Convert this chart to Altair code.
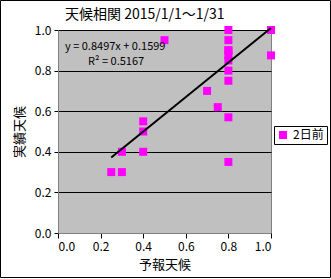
import altair as alt
import pandas as pd

forecast = [0.25, 0.3, 0.3, 0.4, 0.4, 0.4, 0.5, 0.7, 0.75,
            0.8, 0.8, 0.8, 0.8, 0.8, 0.8, 0.8, 0.8, 0.8, 0.8, 1.0, 1.0]
actual = [0.3, 0.3, 0.4, 0.4, 0.5, 0.55, 0.95, 0.7, 0.62,
          1.0, 0.95, 0.9, 0.875, 0.85, 0.8, 0.75, 0.57, 0.35, 0.9, 1.0, 0.875]
series = "2日前"
slope = 0.8497
intercept = 0.1599
eq_text = "y = 0.8497x + 0.1599"
r2_text = "R² = 0.5167"
title_text = "天候相関 2015/1/1～1/31"
ticks = [0.0, 0.2, 0.4, 0.6, 0.8, 1.0]

FONT = "Noto Sans CJK JP"

df = pd.DataFrame({"forecast": forecast, "actual": actual, "series": series})
xmin, xmax = min(forecast), max(forecast)
trend = pd.DataFrame({"forecast": [xmin, xmax],
                      "actual": [slope * xmin + intercept, slope * xmax + intercept]})

xs = alt.Scale(domain=[0, 1], nice=False, zero=True)
ys = alt.Scale(domain=[0, 1], nice=False)

xaxis = alt.Axis(values=ticks, format=".1f", grid=False, title="予報天候",
                 labelFontSize=12, titleFontSize=13, titleFontWeight="normal",
                 tickSize=5, tickColor="black", domainColor="#808080",
                 labelPadding=3, titlePadding=6, labelColor="black", titleColor="black",
                 labelFont=FONT, titleFont=FONT)
yaxis = alt.Axis(values=ticks, format=".1f", grid=True, gridColor="black", gridOpacity=1,
                 title="実績天候", labelFontSize=12, titleFontSize=13, titleFontWeight="normal",
                 tickSize=4, tickColor="black", domainColor="#808080",
                 labelPadding=3, titlePadding=8, labelColor="black", titleColor="black",
                 labelFont=FONT, titleFont=FONT)

points = alt.Chart(df).mark_square(size=64, opacity=1, color="#FF00FF").encode(
    x=alt.X("forecast:Q", scale=xs, axis=xaxis),
    y=alt.Y("actual:Q", scale=ys, axis=yaxis),
    color=alt.Color("series:N", scale=alt.Scale(range=["#FF00FF"]),
                    legend=alt.Legend(title=None, orient="none", legendX=216, legendY=96,
                                      symbolType="square", symbolSize=64,
                                      labelFontSize=12, labelFont=FONT, labelColor="black",
                                      fillColor="white", strokeColor="black",
                                      padding=3, symbolStrokeWidth=0, symbolOpacity=1)),
)

line = alt.Chart(trend).mark_line(color="black", strokeWidth=2).encode(
    x=alt.X("forecast:Q", scale=xs),
    y=alt.Y("actual:Q", scale=ys),
)

eq = alt.Chart(pd.DataFrame({"t": [eq_text]})).mark_text(
    align="left", baseline="middle", fontSize=11, font=FONT, color="black"
).encode(x=alt.value(7), y=alt.value(17), text="t:N")

r2 = alt.Chart(pd.DataFrame({"t": [r2_text]})).mark_text(
    align="left", baseline="middle", fontSize=11, font=FONT, color="black"
).encode(x=alt.value(30), y=alt.value(32), text="t:N")

ttl = alt.Chart(pd.DataFrame({"t": [title_text]})).mark_text(
    align="left", baseline="middle", fontSize=14, font=FONT, color="black", clip=False
).encode(x=alt.value(7), y=alt.value(-15), text="t:N")

frame = alt.Chart(pd.DataFrame({"t": [0]})).mark_rect(
    fill=None, stroke="black", strokeWidth=1, clip=False
).encode(x=alt.value(-57.5), x2=alt.value(272.5), y=alt.value(-29.5), y2=alt.value(247.5))

chart = alt.layer(frame, points, line, eq, r2, ttl).properties(
    width=213, height=203,
    autosize=alt.AutoSizeParams(type="none"),
    padding={"left": 58, "top": 30, "right": 60, "bottom": 46},
    background="white",
).configure_view(fill="#C0C0C0", stroke="#808080", strokeWidth=1)

chart.save("out.html", embed_options={"renderer": "svg", "actions": False})
